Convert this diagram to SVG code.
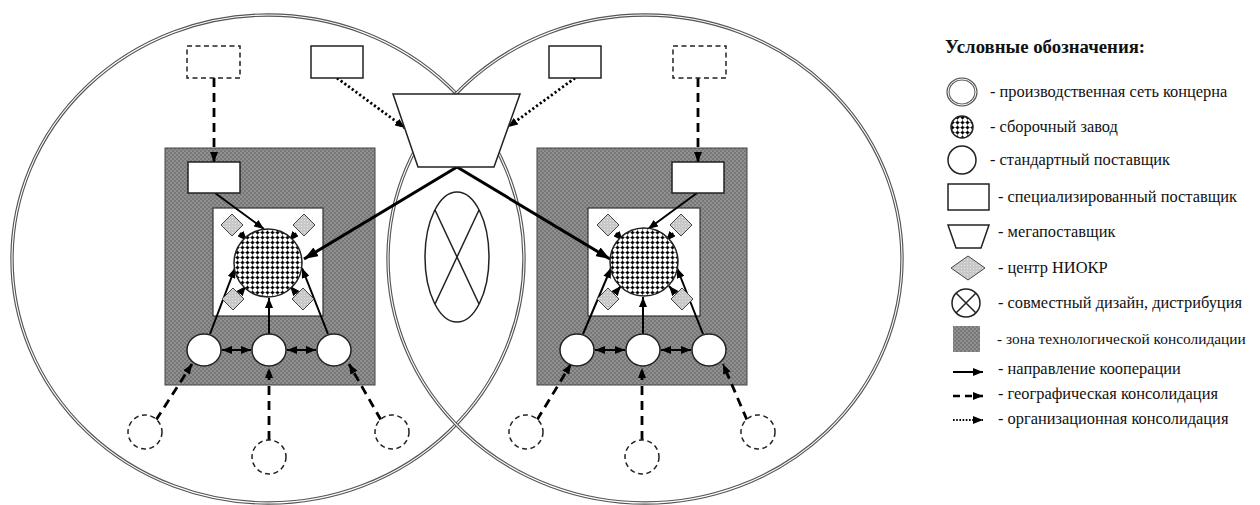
<svg xmlns="http://www.w3.org/2000/svg" width="1260" height="505" viewBox="0 0 1260 505">
<style>
.big{fill:none;stroke:#555;stroke-width:3.4}
.bigin{fill:none;stroke:#fff;stroke-width:1.1}
.zone{fill:url(#dots);stroke:#444;stroke-width:1}
.wsq{fill:#fff;stroke:#333;stroke-width:1.2}
.asm{fill:url(#chk);stroke:#222;stroke-width:1.5}
.dia{fill:url(#ldots);stroke:#444;stroke-width:1}
.sup{fill:#fff;stroke:#222;stroke-width:1.5}
.dsup{fill:#fff;stroke:#222;stroke-width:1.5;stroke-dasharray:5 3.5}
.solid{fill:none;stroke:#000;stroke-width:2;marker-end:url(#ah)}
.thick{fill:none;stroke:#000;stroke-width:3;marker-end:url(#ahT)}
.dbl{fill:none;stroke:#000;stroke-width:2;marker-end:url(#ah);marker-start:url(#ah)}
.dash{fill:none;stroke:#000;stroke-width:2.8;stroke-dasharray:9 6;marker-end:url(#ah)}
.dot{fill:none;stroke:#000;stroke-width:2.8;stroke-dasharray:2.2 2.4;marker-end:url(#ah)}
.thin{fill:none;stroke:#222;stroke-width:1.5}
.lt{font-family:'Liberation Serif','DejaVu Serif',serif;font-size:16.4px;fill:#111}
.title{font-family:'Liberation Serif','DejaVu Serif',serif;font-weight:bold;font-size:18.8px;fill:#111}
</style>
<defs>
<pattern id="dots" width="4" height="4" patternUnits="userSpaceOnUse">
<rect width="4" height="4" fill="#777"/>
<circle cx="1" cy="1" r="0.7" fill="#bdbdbd"/>
<circle cx="3" cy="3" r="0.7" fill="#bdbdbd"/>
</pattern>
<pattern id="ldots" width="3" height="3" patternUnits="userSpaceOnUse">
<rect width="3" height="3" fill="#c8c8c8"/>
<circle cx="1.5" cy="1.5" r="0.6" fill="#e8e8e8"/>
</pattern>
<pattern id="chk" width="5" height="5" patternUnits="userSpaceOnUse">
<rect width="5" height="5" fill="#fff"/>
<path d="M0 2.5H5M2.5 0V5" stroke="#000" stroke-width="0.5"/>
<circle cx="2.5" cy="2.5" r="1.5" fill="#000"/>
</pattern>
<marker id="ah" markerUnits="userSpaceOnUse" markerWidth="10" markerHeight="8" refX="10" refY="4" orient="auto-start-reverse">
<path d="M0,0L10,4L0,8z" fill="#000"/>
</marker>
<marker id="ahT" markerUnits="userSpaceOnUse" markerWidth="14" markerHeight="10" refX="14" refY="5" orient="auto">
<path d="M0,0L14,5L0,10z" fill="#000"/>
</marker>
</defs>
<rect width="1260" height="505" fill="#fff"/>

<g id="network-left">
<ellipse class="big" cx="268" cy="259" rx="256" ry="244"/>
<ellipse class="bigin" cx="268" cy="259" rx="256" ry="244"/>
</g>
<g id="network-right">
<ellipse class="big" cx="645" cy="259" rx="257" ry="244"/>
<ellipse class="bigin" cx="645" cy="259" rx="257" ry="244"/>
</g>

<g id="zone-left">
<rect class="zone" x="165" y="148" width="210" height="237"/>
<rect class="wsq" x="213" y="208" width="110" height="108"/>
</g>
<g id="zone-right">
<rect class="zone" x="537" y="148" width="210" height="237"/>
<rect class="wsq" x="588" y="208" width="112" height="108"/>
</g>

<g id="joint-design">
<ellipse class="thin" cx="457" cy="257" rx="32" ry="65"/>
<path class="thin" d="M435,210L479,304M479,210L435,304"/>
</g>

<g id="connectors">
<path class="dash" d="M214,78V162"/>
<path class="dash" d="M698,78V162"/>
<path class="dot" d="M337,78L405,128"/>
<path class="dot" d="M575,78L508,127"/>
<path class="thick" d="M457,167L304,259"/>
<path class="thick" d="M457,167L610,259"/>
<path class="solid" d="M215,193L264,229"/>
<path class="solid" d="M697,193L648,229"/>
<path class="solid" d="M240,233L247,241"/>
<path class="solid" d="M296,233L289,241"/>
<path class="solid" d="M241,292L246,286"/>
<path class="solid" d="M295,292L290,286"/>
<path class="solid" d="M616,233L623,241"/>
<path class="solid" d="M673,233L666,241"/>
<path class="solid" d="M616,292L621,286"/>
<path class="solid" d="M674,292L669,286"/>
<path class="solid" d="M210,334L235,268"/>
<path class="solid" d="M269,334V298"/>
<path class="solid" d="M328,334L302,268"/>
<path class="dbl" d="M222,350H251"/>
<path class="dbl" d="M287,350H316"/>
<path class="solid" d="M583,334L611,268"/>
<path class="solid" d="M643,334V297"/>
<path class="solid" d="M703,334L677,268"/>
<path class="dbl" d="M595,350H625"/>
<path class="dbl" d="M661,350H691"/>
<path class="dash" d="M156,420L192,364"/>
<path class="dash" d="M269,440V368"/>
<path class="dash" d="M381,420L349,364"/>
<path class="dash" d="M537,420L571,364"/>
<path class="dash" d="M642,440V368"/>
<path class="dash" d="M747,420L723,364"/>
</g>

<g id="megasupplier">
<path d="M393,94H520L494,167H418Z" fill="#fff" stroke="#222" stroke-width="1.5"/>
</g>

<g id="spec-suppliers-left">
<rect class="dsup" x="187" y="46" width="53" height="32"/>
<rect class="sup" x="311" y="46" width="52" height="32"/>
<rect class="sup" x="188" y="162" width="52" height="31"/>
</g>
<g id="spec-suppliers-right">
<rect class="sup" x="549" y="46" width="52" height="32"/>
<rect class="dsup" x="673" y="46" width="53" height="32"/>
<rect class="sup" x="672" y="162" width="52" height="31"/>
</g>

<g id="assembly-left"><circle class="asm" cx="268" cy="263" r="34"/></g>
<g id="assembly-right"><circle class="asm" cx="644" cy="262" r="34"/></g>

<g id="rnd-left">
<path class="dia" d="M232,214L243,225L232,236L221,225Z"/>
<path class="dia" d="M304,214L315,225L304,236L293,225Z"/>
<path class="dia" d="M233,288L244,299L233,310L222,299Z"/>
<path class="dia" d="M303,288L314,299L303,310L292,299Z"/>
</g>
<g id="rnd-right">
<path class="dia" d="M608,214L619,225L608,236L597,225Z"/>
<path class="dia" d="M681,214L692,225L681,236L670,225Z"/>
<path class="dia" d="M608,288L619,299L608,310L597,299Z"/>
<path class="dia" d="M682,288L693,299L682,310L671,299Z"/>
</g>

<g id="std-suppliers-left">
<ellipse class="sup" cx="204" cy="350" rx="17" ry="16"/>
<ellipse class="sup" cx="269" cy="350" rx="17" ry="16"/>
<ellipse class="sup" cx="334" cy="350" rx="17" ry="16"/>
<circle class="dsup" cx="145" cy="432" r="17"/>
<circle class="dsup" cx="269" cy="457" r="17"/>
<circle class="dsup" cx="392" cy="432" r="17"/>
</g>
<g id="std-suppliers-right">
<ellipse class="sup" cx="577" cy="350" rx="17" ry="16"/>
<ellipse class="sup" cx="643" cy="350" rx="17" ry="16"/>
<ellipse class="sup" cx="709" cy="350" rx="17" ry="16"/>
<circle class="dsup" cx="526" cy="432" r="17"/>
<circle class="dsup" cx="642" cy="457" r="17"/>
<circle class="dsup" cx="758" cy="432" r="17"/>
</g>

<g id="legend">
<text class="title" x="945" y="53">Условные обозначения:</text>
<ellipse cx="962" cy="92" rx="14" ry="13" fill="none" stroke="#555" stroke-width="3.2"/>
<ellipse cx="962" cy="92" rx="14" ry="13" fill="none" stroke="#fff" stroke-width="1"/>
<text class="lt" x="990" y="97">- производственная сеть концерна</text>
<circle class="asm" cx="962" cy="127" r="11"/>
<text class="lt" x="990" y="132">- сборочный завод</text>
<circle cx="962" cy="160" r="14" fill="#fff" stroke="#222" stroke-width="1.5"/>
<text class="lt" x="990" y="165">- стандартный поставщик</text>
<rect class="sup" x="948" y="184" width="41" height="26"/>
<text class="lt" x="998" y="202">- специализированный поставщик</text>
<path d="M948,225H989L981,248H956Z" fill="#fff" stroke="#222" stroke-width="1.5"/>
<text class="lt" x="998" y="237">- мегапоставщик</text>
<path class="dia" d="M968,256L985,268L968,280L951,268Z"/>
<text class="lt" x="998" y="273">- центр НИОКР</text>
<circle cx="966" cy="303" r="14" fill="#fff" stroke="#222" stroke-width="1.5"/>
<path class="thin" d="M956,293L976,313M976,293L956,313"/>
<text class="lt" x="998" y="308">- совместный дизайн, дистрибуция</text>
<rect x="953" y="326" width="27" height="26" fill="url(#dots)"/>
<text class="lt" x="997" y="344" style="font-size:15.4px">- зона технологической консолидации</text>
<path class="solid" d="M953,372H983" stroke-width="2.8"/>
<text class="lt" x="998" y="374">- направление кооперации</text>
<path d="M953,396H983" fill="none" stroke="#000" stroke-width="2.5" stroke-dasharray="7 5" marker-end="url(#ah)"/>
<text class="lt" x="998" y="399">- географическая консолидация</text>
<path d="M953,420H983" fill="none" stroke="#000" stroke-width="2.2" stroke-dasharray="1.6 1.6" marker-end="url(#ah)"/>
<text class="lt" x="998" y="424">- организационная консолидация</text>
</g>
</svg>
